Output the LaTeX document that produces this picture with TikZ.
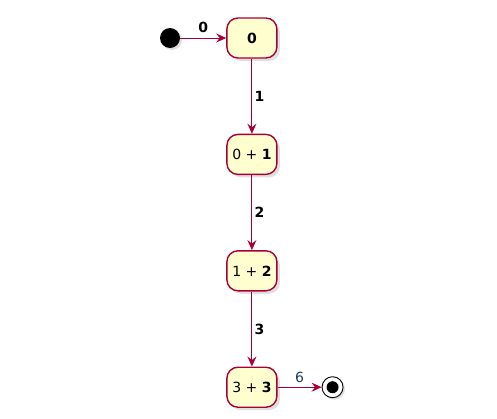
\documentclass[tikz,border=0pt]{standalone}
\usepackage{fontspec}
\setmainfont{DejaVu Sans}
\usetikzlibrary{arrows.meta, positioning, shadows}
\definecolor{sfill}{HTML}{FEFECE}
\definecolor{sline}{HTML}{A80036}
\definecolor{lblue}{HTML}{1F3A60}
\tikzstyle{state} = [rectangle, rounded corners=11pt, minimum width=50pt, minimum height=40pt, inner sep=2pt, text centered, draw=sline, line width=1.4pt, fill=sfill, drop shadow={shadow xshift=3pt, shadow yshift=-3pt, opacity=0.25, fill=gray}]
\tikzstyle{startdot} = [circle, fill=black, minimum size=20pt, inner sep=0pt, drop shadow={shadow xshift=2pt, shadow yshift=-2pt, opacity=0.25, fill=gray}]
\tikzstyle{endring} = [circle, draw=black, fill=white, line width=0.9pt, minimum size=21pt, inner sep=0pt, drop shadow={shadow xshift=2pt, shadow yshift=-2pt, opacity=0.25, fill=gray}]
\tikzstyle{enddot} = [circle, fill=black, minimum size=12pt, inner sep=0pt]
\tikzstyle{trans} = [line width=1pt, draw=sline, -{Stealth[length=10pt, width=9pt, inset=3.5pt]}]
\begin{document}
\begin{tikzpicture}[x=1pt, y=1pt, node distance=75pt, font=\fontsize{14}{16}\selectfont]
  \useasboundingbox (0,0) rectangle (497,-418);
  \node (start) [startdot] at (170,-38) {};
  \node (s0) [state, right=46pt of start] {\textbf{0}};
  \node (s1) [state, below= of s0] {0 + \textbf{1}};
  \node (s2) [state, below= of s1] {1 + \textbf{2}};
  \node (s3) [state, below= of s2] {3 + \textbf{3}};
  \node (stop) [endring, right=44pt of s3] {};
  \node [enddot] at (stop) {};
  \draw [trans] (start) -- node[above, black, yshift=1pt] {\textbf{0}} (s0);
  \draw [trans] (s0) -- node[right, black, xshift=-1pt] {\textbf{1}} (s1);
  \draw [trans] (s1) -- node[right, black, xshift=-1pt] {\textbf{2}} (s2);
  \draw [trans] (s2) -- node[right, black, xshift=-1pt] {\textbf{3}} (s3);
  \draw [trans] (s3) -- node[above, lblue, yshift=1pt] {6} (stop);
\end{tikzpicture}
\end{document}
